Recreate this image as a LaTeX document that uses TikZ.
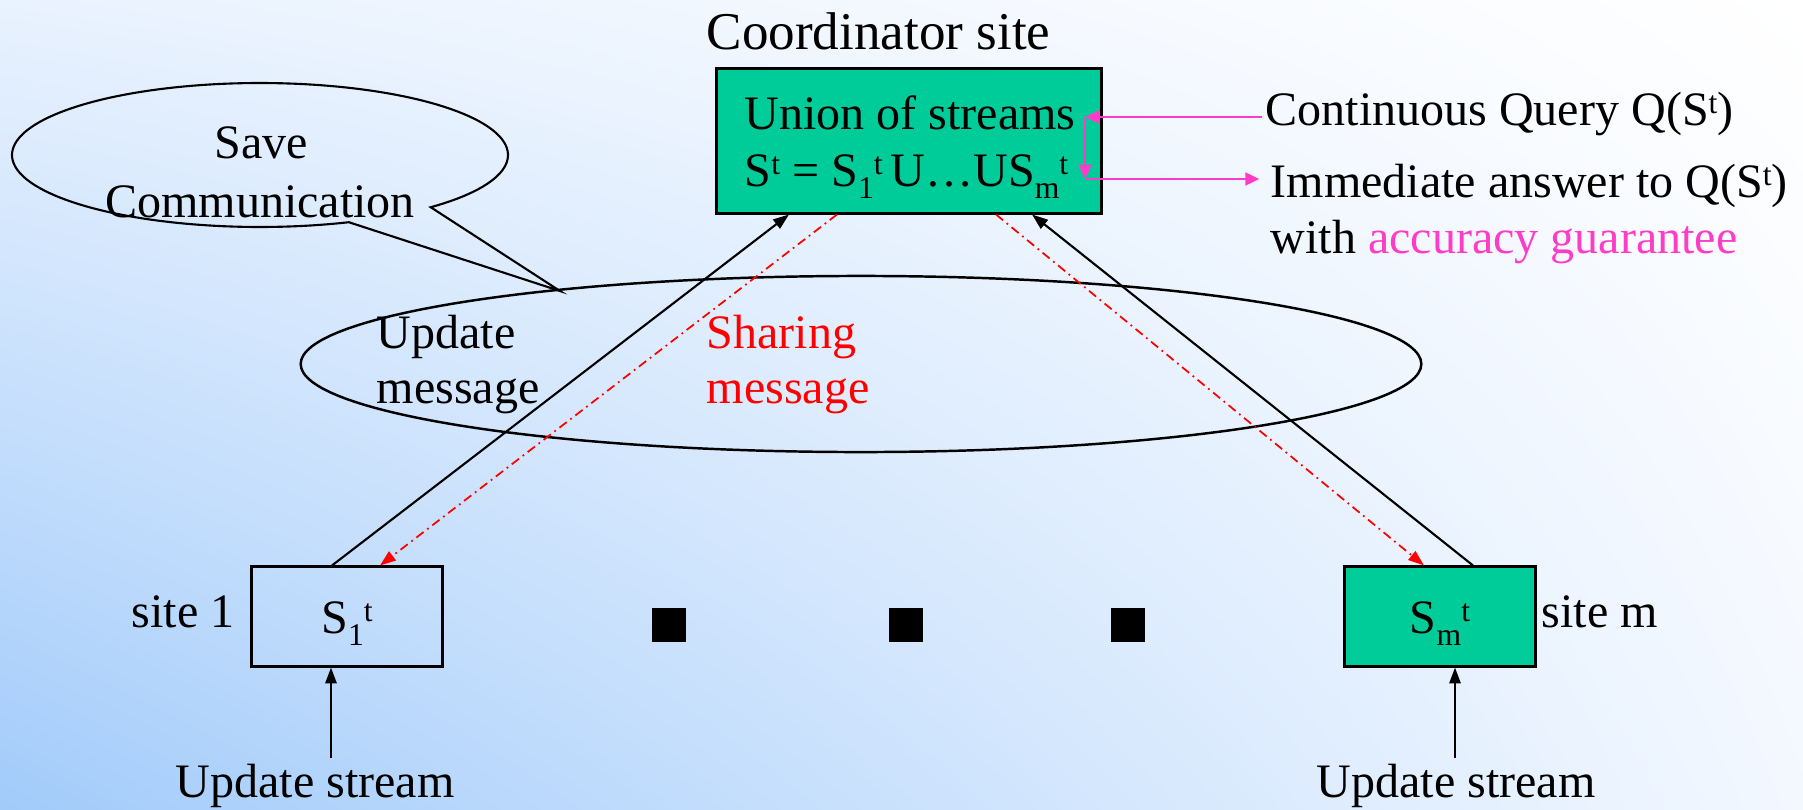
\documentclass[tikz,border=0pt]{standalone}
\usepackage{fontspec}
\setmainfont{Liberation Serif}
\usetikzlibrary{arrows.meta,shapes.geometric,calc,shadings}
\definecolor{bgUL}{HTML}{E9F2FE}
\definecolor{bgUR}{HTML}{FFFFFF}
\definecolor{bgLL}{HTML}{A2CBFA}
\definecolor{bgLR}{HTML}{F3F8FF}
\definecolor{boxgreen}{HTML}{00CC99}
\definecolor{qpink}{HTML}{FF3CC8}
\definecolor{msgred}{HTML}{FF0000}
\newcommand\upt[1]{\raisebox{3.4pt}{\fontsize{9pt}{9pt}\selectfont #1}}
\newcommand\dnt[1]{\raisebox{-3.6pt}{\fontsize{9pt}{9pt}\selectfont #1}}
\begin{document}
\begin{tikzpicture}[x=0.01cm,y=-0.01cm,
  txt/.style={inner sep=0pt, font=\fontsize{13.66pt}{16pt}\selectfont, anchor=base west},
  ctxt/.style={txt, anchor=base},
  sitebox/.style={draw=black, line width=0.85pt, minimum width=1.9cm, minimum height=0.99cm,
     inner sep=0pt, text height=0.5cm, text depth=0.17cm, font=\fontsize{13.66pt}{16pt}\selectfont},
  blk/.style={-{Triangle[length=4.5pt,width=3.2pt]}, line width=0.6pt, black},
  shr/.style={-{Triangle[length=4.5pt,width=3.2pt]}, line width=0.5pt, msgred,
     dash pattern=on 2.6pt off 1.3pt on 0.5pt off 1.3pt},
  pnk/.style={-{Triangle[length=4pt,width=3.6pt]}, line width=0.8pt, qpink},
  ell/.style={draw=black, line width=0.7pt},
  dot/.style={fill=black, minimum width=0.34cm, minimum height=0.34cm, inner sep=0pt}
]
\useasboundingbox (0,0) rectangle (1803,809);
\shade[upper left=bgUL, upper right=bgUR, lower left=bgLL, lower right=bgLR] (0,0) rectangle (1803,809);

% coordinator
\node[txt, font=\fontsize{15.1pt}{18pt}\selectfont] (title) at (706,50) {Coordinator site};
\node[draw=black, line width=0.85pt, fill=boxgreen, minimum width=3.84cm, minimum height=1.44cm, inner sep=0pt] (coord) at (909,141) {};
\node[txt] (union1) at (744,129) {Union of streams};
\node[txt] (union2) at (744,186) {S\upt{t} = S\dnt{1}\upt{t}\,U\ldots US\dnt{m}\upt{t}};

% query texts
\node[txt] (cq) at (1265,125) {Continuous Query Q(S\upt{t})};
\node[txt] (imm) at (1270,197) {Immediate answer to Q(S\upt{t})};
\node[txt] (with) at (1270,253) {with \textcolor{qpink}{accuracy guarantee}};
\coordinate (q1) at (1085,117);
\coordinate (q2) at (1085,179);
\draw[pnk] (cq.west |- q1) ++(-3,0) -- (q1);
\draw[pnk] (q1) -- (q2);
\draw[pnk, shorten >=3pt] (q2) -- (q2 -| imm.west);

% big ellipse and callout
\node[ell, ellipse, minimum width=11.2cm, minimum height=1.76cm, inner sep=0pt] (bigell) at (861,364) {};
\coordinate (tip) at (560,291);
\draw[ell, line width=0.6pt] plot[domain=69:406.5, samples=150] ({260+248*cos(\x)},{155+72*sin(\x)}) -- (tip) -- cycle;
\node[ctxt] (save) at (261,158) {Save};
\node[ctxt] (comm) at (260,217) {Communication};
\node[txt] (upd1) at (376,348) {Update};
\node[txt] (upd2) at (376,403) {message};
\node[txt, text=msgred] (sh1) at (706,348) {Sharing};
\node[txt, text=msgred] (sh2) at (706,403) {message};

% sites
\node[sitebox] (s1) at (347,616.5) {S\dnt{1}\upt{t}};
\node[sitebox, fill=boxgreen] (sm) at (1440,616.5) {S\dnt{m}\upt{t}};
\node[txt] (lab1) at (131,627) {site 1};
\node[txt] (labm) at (1541,627) {site m};
\node[dot] (d1) at (669,625) {};
\node[dot] (d2) at (906,625) {};
\node[dot] (d3) at (1128,625) {};

% messages
\draw[blk] ([xshift=-0.15cm]s1.north) -- ([xshift=-1.2cm]coord.south);
\draw[shr] ([xshift=-0.72cm]coord.south) -- ([xshift=0.33cm]s1.north);
\draw[blk] ([xshift=0.33cm]sm.north) -- ([xshift=1.23cm]coord.south);
\draw[shr] ([xshift=0.87cm]coord.south) -- ([xshift=-0.16cm]sm.north);

% update streams
\node[txt] (us1) at (175,797) {Update stream};
\node[txt] (usm) at (1316,797) {Update stream};
\coordinate (u1) at (331,758);
\coordinate (um) at (1455,758);
\draw[blk] (u1) -- (u1 |- s1.south);
\draw[blk] (um) -- (um |- sm.south);
\end{tikzpicture}
\end{document}
